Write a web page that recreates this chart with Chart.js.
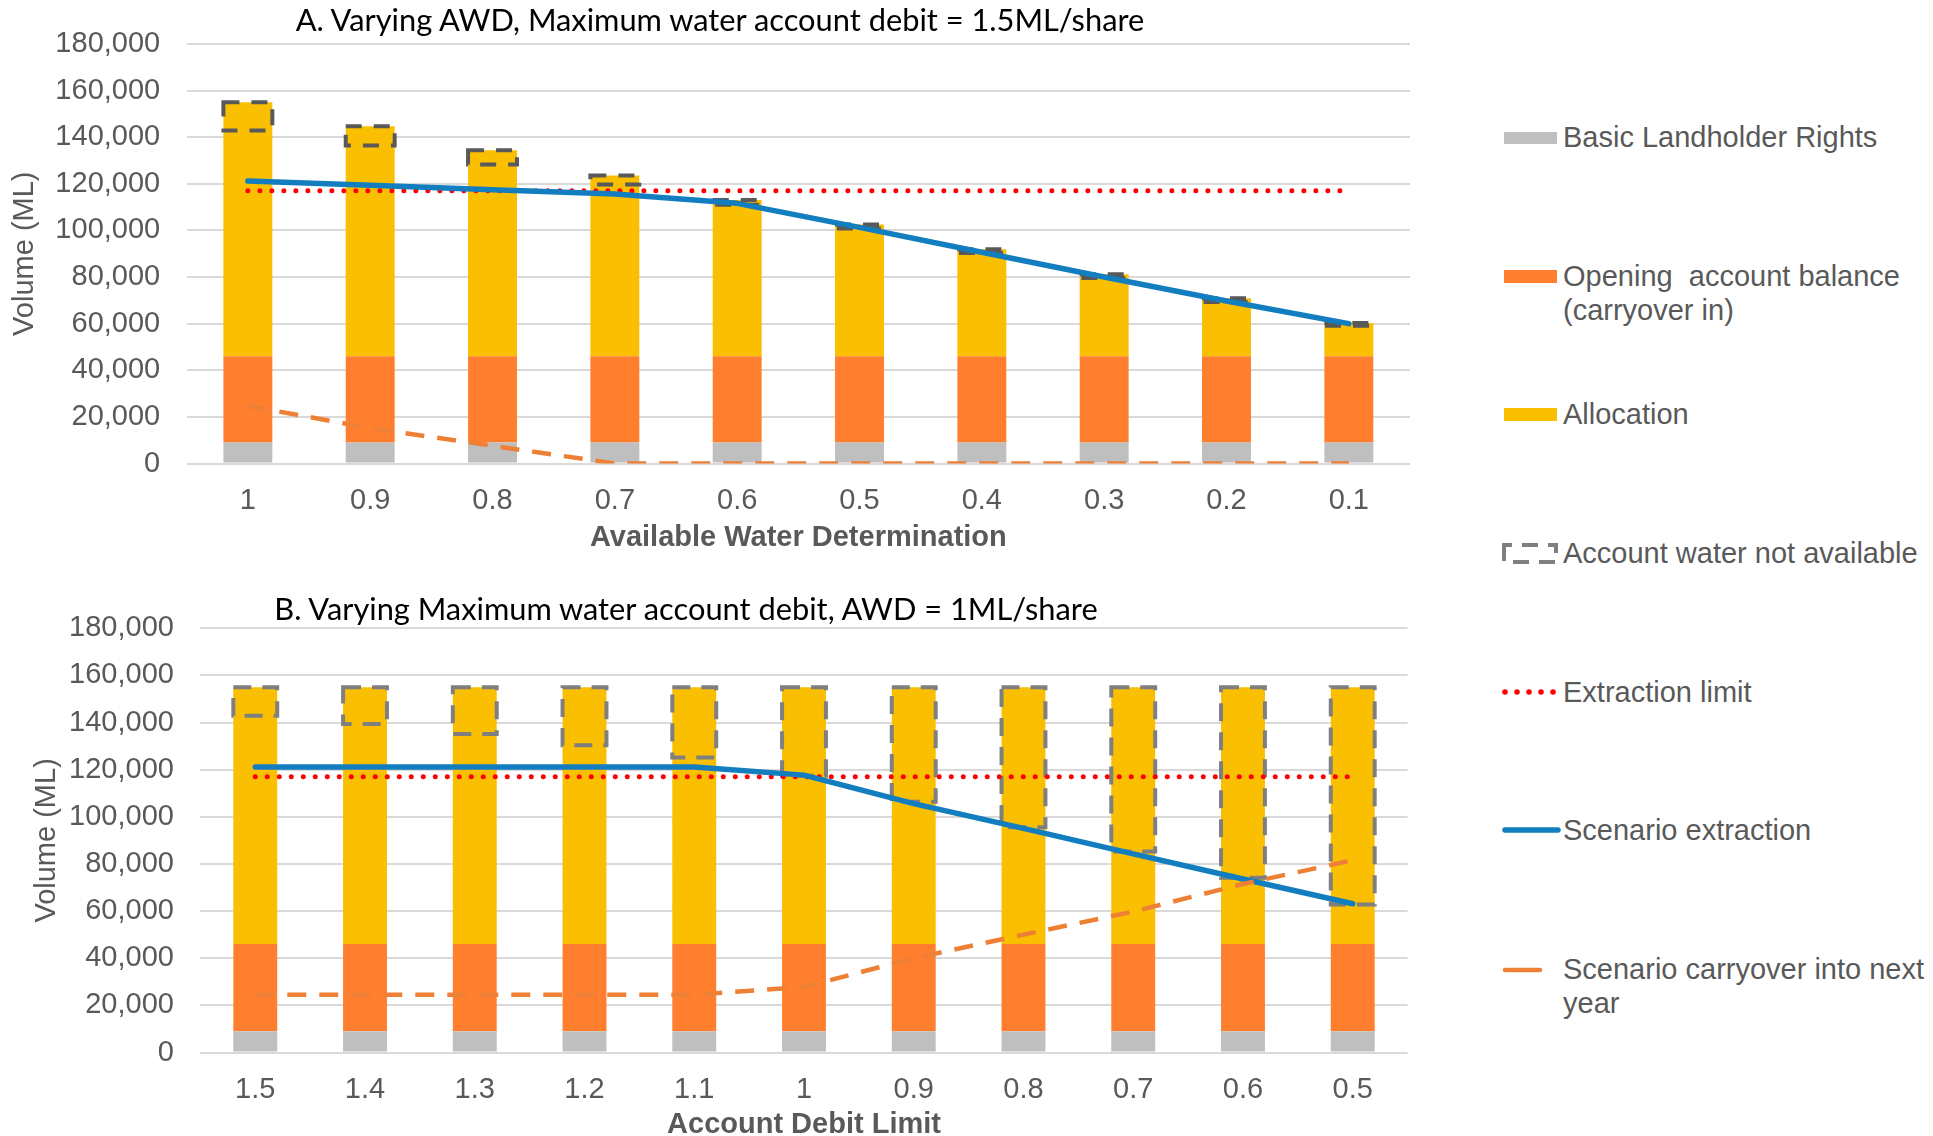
<!DOCTYPE html>
<html>
<head>
<meta charset="utf-8">
<script src="https://cdn.jsdelivr.net/npm/chart.js@4/dist/chart.umd.min.js"></script>
<style>
  html, body { margin: 0; padding: 0; background: #fff; overflow: hidden; width: 1933px; height: 1136px; }
  #wrap { position: relative; width: 1933px; height: 1136px; }
  .cbox { position: absolute; left: 0; width: 1440px; }
  .title { position: absolute; font-family: Lato, "Liberation Sans", sans-serif; font-size: 30.8px; color: #000;
           white-space: nowrap; transform: translateX(-50%); line-height: 40px; }
  .leg { position: absolute; left: 1563px; font-family: "Liberation Sans", Arial, sans-serif; font-size: 29px;
         color: #595959; line-height: 34px; white-space: pre; }
  .ico { position: absolute; overflow: visible; }
</style>
</head>
<body>
<div id="wrap">
  <div class="cbox" style="top:0; height:560px"><canvas id="chartA"></canvas></div>
  <div class="cbox" style="top:580px; height:563px"><canvas id="chartB"></canvas></div>

  <div class="title" style="left:720px; top:0px">A. Varying AWD, Maximum water account debit = 1.5ML/share</div>
  <div class="title" style="left:686px; top:589px">B. Varying Maximum water account debit, AWD = 1ML/share</div>

  <!-- legend -->
  <svg class="ico" style="left:1504px; top:132px" width="53" height="12"><rect width="53" height="12" fill="#BFBFBF"/></svg>
  <div class="leg" style="top:120px">Basic Landholder Rights</div>

  <svg class="ico" style="left:1504px; top:270px" width="53" height="13"><rect width="53" height="13" fill="#FF7F2F"/></svg>
  <div class="leg" style="top:259px">Opening  account balance
(carryover in)</div>

  <svg class="ico" style="left:1504px; top:408px" width="53" height="13"><rect width="53" height="13" fill="#F9BF00"/></svg>
  <div class="leg" style="top:397px">Allocation</div>

  <svg class="ico" style="left:1500px; top:541px" width="62" height="26">
    <rect x="4" y="4" width="52" height="17" fill="none" stroke="#7F7F7F" stroke-width="4" stroke-dasharray="16 10" stroke-dashoffset="8"/>
  </svg>
  <div class="leg" style="top:536px">Account water not available</div>

  <svg class="ico" style="left:1500px; top:686px" width="62" height="12">
    <g fill="#FF0000"><circle cx="5" cy="6" r="2.8"/><circle cx="17" cy="6" r="2.8"/><circle cx="29" cy="6" r="2.8"/><circle cx="41" cy="6" r="2.8"/><circle cx="53" cy="6" r="2.8"/></g>
  </svg>
  <div class="leg" style="top:675px">Extraction limit</div>

  <svg class="ico" style="left:1500px; top:824px" width="64" height="12">
    <line x1="5" y1="6" x2="58" y2="6" stroke="#127EC0" stroke-width="5.5" stroke-linecap="round"/>
  </svg>
  <div class="leg" style="top:813px">Scenario extraction</div>

  <svg class="ico" style="left:1500px; top:964px" width="64" height="12">
    <line x1="5" y1="6" x2="40" y2="6" stroke="#EE8035" stroke-width="4.5" stroke-linecap="round"/>
  </svg>
  <div class="leg" style="top:952px">Scenario carryover into next
year</div>
</div>

<script>
// ---- Panel A: varying available water determination (max account debit 1.5 ML/share)
const awdLabels = ['1', '0.9', '0.8', '0.7', '0.6', '0.5', '0.4', '0.3', '0.2', '0.1'];
const aBasicRights   = [9000, 9000, 9000, 9000, 9000, 9000, 9000, 9000, 9000, 9000];
const aOpeningBal    = [37000, 37000, 37000, 37000, 37000, 37000, 37000, 37000, 37000, 37000];
const aAllocation    = [109000, 98700, 88400, 77500, 67000, 56500, 45900, 35200, 24900, 14300];
const aNotAvailable  = [12100, 8300, 6100, 3800, 2000, 1700, 1600, 1600, 1600, 1200];
const aExtLimit      = [117000, 117000, 117000, 117000, 117000, 117000, 117000, 117000, 117000, 117000];
const aExtraction    = [121200, 119400, 117400, 115600, 111600, 101300, 90600, 80000, 69700, 60000];
const aCarryover     = [24700, 15200, 7600, 0, 0, 0, 0, 0, 0, 0];

// ---- Panel B: varying account debit limit (AWD 1 ML/share)
const debitLabels = ['1.5', '1.4', '1.3', '1.2', '1.1', '1', '0.9', '0.8', '0.7', '0.6', '0.5'];
const bBasicRights   = [9000, 9000, 9000, 9000, 9000, 9000, 9000, 9000, 9000, 9000, 9000];
const bOpeningBal    = [37000, 37000, 37000, 37000, 37000, 37000, 37000, 37000, 37000, 37000, 37000];
const bAllocation    = [109000, 109000, 109000, 109000, 109000, 109000, 109000, 109000, 109000, 109000, 109000];
const bNotAvailable  = [12100, 15600, 19800, 24600, 29800, 37600, 48600, 59400, 69700, 80900, 92200];
const bExtLimit      = [117000, 117000, 117000, 117000, 117000, 117000, 117000, 117000, 117000, 117000, 117000];
const bExtraction    = [121100, 121100, 121100, 121100, 121100, 117700, 105600, 95100, 84300, 73600, 63100];
const bCarryover     = [24500, 24500, 24500, 24500, 24500, 27800, 40000, 50000, 59800, 71500, 81600];

const yTicks = { min: 0, max: 180000, step: 20000 };

const TICK_GREY = '#595959';
const FONT = "'Liberation Sans', Arial, sans-serif";

// Strokes a dashed outline around each bar of datasets flagged with `dashedBox`
const dashedBoxPlugin = {
  id: 'dashedBox',
  afterDatasetDraw(chart, args) {
    const ds = chart.data.datasets[args.index];
    if (!ds.dashedBox) return;
    const ctx = chart.ctx;
    ctx.save();
    ctx.strokeStyle = ds.dashedBox.color;
    ctx.lineWidth = ds.dashedBox.width;
    ctx.setLineDash(ds.dashedBox.dash);
    ctx.lineCap = 'butt';
    for (const el of args.meta.data) {
      const p = el.getProps(['x', 'y', 'base', 'width'], true);
      const l = p.x - p.width / 2, r = p.x + p.width / 2;
      const t = Math.min(p.y, p.base), b = Math.max(p.y, p.base);
      ctx.beginPath();
      ctx.moveTo(l, t); ctx.lineTo(r, t); ctx.lineTo(r, b); ctx.lineTo(l, b); ctx.closePath();
      ctx.stroke();
    }
    ctx.restore();
  }
};

function buildChart(id, labels, s, lay) {
  const topOfBars = labels.map((_, i) => s.basic[i] + s.opening[i] + s.alloc[i]);
  const boxes = labels.map((_, i) => [topOfBars[i] - s.notAvail[i], topOfBars[i]]);

  const barCommon = { type: 'bar', stack: 'w', order: 10, borderWidth: 0,
                      barPercentage: 0.5, categoryPercentage: 0.8 };
  // lines sit on their own unstacked axis so their values are plotted as-is
  const lineCommon = { type: 'line', yAxisID: 'yLine', pointRadius: 0, fill: false, tension: 0 };

  return new Chart(document.getElementById(id), {
    data: {
      labels,
      datasets: [
        { ...barCommon, label: 'Basic Landholder Rights', data: s.basic, backgroundColor: '#BFBFBF' },
        { ...barCommon, label: 'Opening  account balance (carryover in)', data: s.opening, backgroundColor: '#FF7F2F' },
        { ...barCommon, label: 'Allocation', data: s.alloc, backgroundColor: '#F9BF00' },
        { ...barCommon, label: 'Account water not available', data: boxes, yAxisID: 'yBox', order: 9,
          backgroundColor: 'rgba(0,0,0,0)',
          dashedBox: { color: lay.boxColor, width: 4, dash: lay.boxDash } },
        { ...lineCommon, label: 'Extraction limit', data: s.limit, order: 8,
          borderColor: '#FF0000', borderWidth: 5, borderDash: [0, 12], borderCapStyle: 'round' },
        { ...lineCommon, label: 'Scenario extraction', data: s.extraction, order: 7,
          borderColor: '#127EC0', borderWidth: 5.5, borderCapStyle: 'round', borderJoinStyle: 'round' },
        { ...lineCommon, label: 'Scenario carryover into next year', data: s.carry, order: 6,
          borderColor: '#EE8035', borderWidth: 4.5, borderDash: [19, 13], borderCapStyle: 'butt' }
      ]
    },
    options: {
      responsive: true,
      maintainAspectRatio: false,
      animation: false,
      events: [],
      layout: { padding: { top: lay.top, left: 0, right: lay.right, bottom: 0 } },
      plugins: { legend: { display: false }, tooltip: { enabled: false }, title: { display: false } },
      scales: {
        x: {
          stacked: true,
          grid: { display: false },
          border: { display: false },
          ticks: { color: TICK_GREY, font: { family: FONT, size: 29 }, padding: 12, maxRotation: 0 },
          title: { display: true, text: lay.xTitle, color: TICK_GREY,
                   font: { family: FONT, size: 29, weight: 'bold' }, padding: { top: 0, bottom: lay.xTitlePad } },
          afterFit: (sc) => { sc.height = lay.canvasH - lay.bottom; }
        },
        y: {
          stacked: true,
          min: yTicks.min, max: yTicks.max,
          border: { display: false },
          grid: { color: '#D9D9D9', lineWidth: 2, drawTicks: false },
          ticks: { stepSize: yTicks.step, color: TICK_GREY, font: { family: FONT, size: 29 }, padding: 26.5,
                   callback: (v) => v.toLocaleString('en-US') },
          title: { display: true, text: 'Volume (ML)', color: TICK_GREY,
                   font: { family: FONT, size: 29 }, padding: { top: lay.yTitlePad, bottom: 0 } },
          afterFit: (sc) => { sc.width = lay.left; }
        },
        yBox: { display: false, stacked: false, min: yTicks.min, max: yTicks.max },
        yLine: { display: false, stacked: false, min: yTicks.min, max: yTicks.max }
      }
    },
    plugins: [dashedBoxPlugin]
  });
}

buildChart('chartA', awdLabels,
  { basic: aBasicRights, opening: aOpeningBal, alloc: aAllocation, notAvail: aNotAvailable,
    limit: aExtLimit, extraction: aExtraction, carry: aCarryover },
  { left: 186.7, top: 40, bottom: 463.5, right: 30, canvasH: 560,
    yTitlePad: 7.6, xTitlePad: 5, xTitle: 'Available Water Determination',
    boxColor: '#595959', boxDash: [16, 12] });

buildChart('chartB', debitLabels,
  { basic: bBasicRights, opening: bOpeningBal, alloc: bAllocation, notAvail: bNotAvailable,
    limit: bExtLimit, extraction: bExtraction, carry: bCarryover },
  { left: 200.4, top: 48.3, bottom: 472.5, right: 32.4, canvasH: 563,
    yTitlePad: 29.6, xTitlePad: 1, xTitle: 'Account Debit Limit',
    boxColor: '#7F7F7F', boxDash: [18, 11] });
</script>
</body>
</html>
